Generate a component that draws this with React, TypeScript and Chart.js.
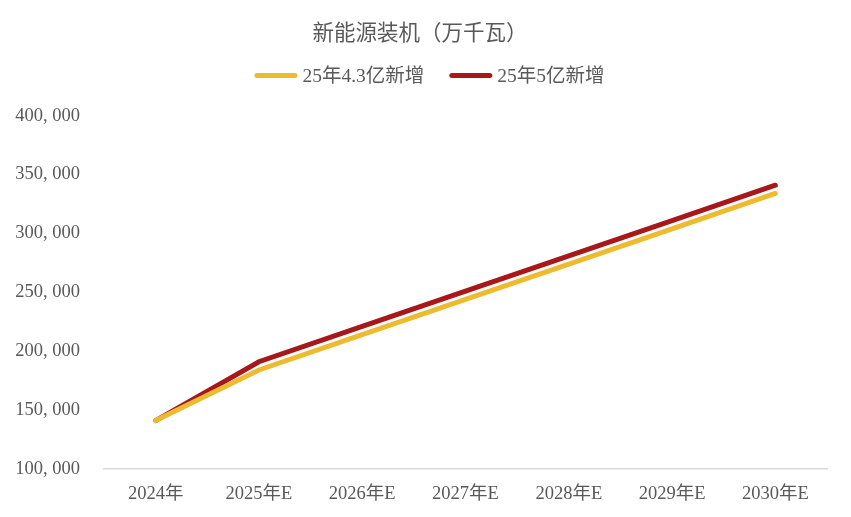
import React, { useEffect, useRef } from "react";
import { Chart, registerables } from "chart.js";

Chart.register(...registerables);

const categories = ["2024年", "2025年E", "2026年E", "2027年E", "2028年E", "2029年E", "2030年E"];
const series43 = [141000, 184000, 214000, 244000, 274000, 304000, 334000];
const series5 = [141000, 191000, 221000, 251000, 281000, 311000, 341000];
const seriesNames = ["25年4.3亿新增", "25年5亿新增"];
const titleText = "新能源装机（万千瓦）";

const FONT = '"Liberation Serif", "Noto Sans CJK SC", serif';
const GREY = "#595959";
const LEGEND_FONT_SIZE = 19.5;

const customLegend = {
  id: "customLegend",
  afterDraw(chart: any) {
    const ctx = chart.ctx;
    const ds = chart.data.datasets;
    const lineLen = 38;
    const cap = 2.5;
    const gapText = 5;
    const gapItem = 25;
    ctx.save();
    ctx.font = `${LEGEND_FONT_SIZE}px ${FONT}`;
    const widths = ds.map((d: any) => cap * 2 + lineLen + gapText + ctx.measureText(d.label).width);
    const total = widths.reduce((a: number, b: number) => a + b, 0) + gapItem * (ds.length - 1);
    let x = 429.5 - total / 2;
    const y = 75.5;
    ds.forEach((d: any, i: number) => {
      ctx.strokeStyle = d.borderColor;
      ctx.lineWidth = 5;
      ctx.lineCap = "round";
      ctx.beginPath();
      ctx.moveTo(x + cap, y);
      ctx.lineTo(x + cap + lineLen, y);
      ctx.stroke();
      ctx.fillStyle = GREY;
      ctx.textBaseline = "middle";
      ctx.textAlign = "left";
      ctx.fillText(d.label, x + cap * 2 + lineLen + gapText, y + 1);
      x += widths[i] + gapItem;
    });
    ctx.restore();
  },
};

export default function App() {
  const ref = useRef<HTMLCanvasElement | null>(null);
  useEffect(() => {
    if (!ref.current) return;
    const chart = new Chart(ref.current, {
      type: "line",
      data: {
        labels: categories,
        datasets: [
          {
            label: seriesNames[0],
            data: series43,
            borderColor: "#EDBB30",
            backgroundColor: "#EDBB30",
            borderWidth: 5,
            borderCapStyle: "round",
            pointRadius: 0,
            tension: 0,
          },
          {
            label: seriesNames[1],
            data: series5,
            borderColor: "#A8171A",
            backgroundColor: "#A8171A",
            borderWidth: 5,
            borderCapStyle: "round",
            pointRadius: 0,
            tension: 0,
          },
        ],
      },
      plugins: [customLegend],
      options: {
        animation: false,
        responsive: false,
        layout: { padding: { left: 13, right: 24, top: 12, bottom: -2 } },
        plugins: {
          title: {
            display: true,
            text: titleText,
            color: GREY,
            font: { family: FONT, size: 21.5, weight: "normal" },
            padding: { top: 9, bottom: 69 },
          },
          legend: { display: false },
          tooltip: { enabled: false },
        },
        scales: {
          x: {
            offset: true,
            grid: { display: false, drawTicks: false },
            border: { display: true, color: "#D9D9D9", width: 1.5 },
            ticks: { color: GREY, font: { family: FONT, size: 18.5 }, padding: 14, maxRotation: 0 },
          },
          y: {
            min: 100000,
            max: 400000,
            afterFit: (s: any) => {
              s.width = 91;
            },
            grid: { display: false, drawTicks: false },
            border: { display: false },
            ticks: {
              stepSize: 50000,
              color: GREY,
              font: { family: FONT, size: 18.5 },
              padding: 24,
              callback: (v: any) => {
                const n = Number(v);
                const th = Math.floor(n / 1000);
                return th + ", 000";
              },
            },
          },
        },
      },
    });
    return () => chart.destroy();
  }, []);
  return (
    <div style={{ position: "fixed", left: 0, top: 0, width: 851, height: 517, background: "#fff" }}>
      <canvas ref={ref} width={851} height={517} style={{ width: 851, height: 517 }} />
    </div>
  );
}
